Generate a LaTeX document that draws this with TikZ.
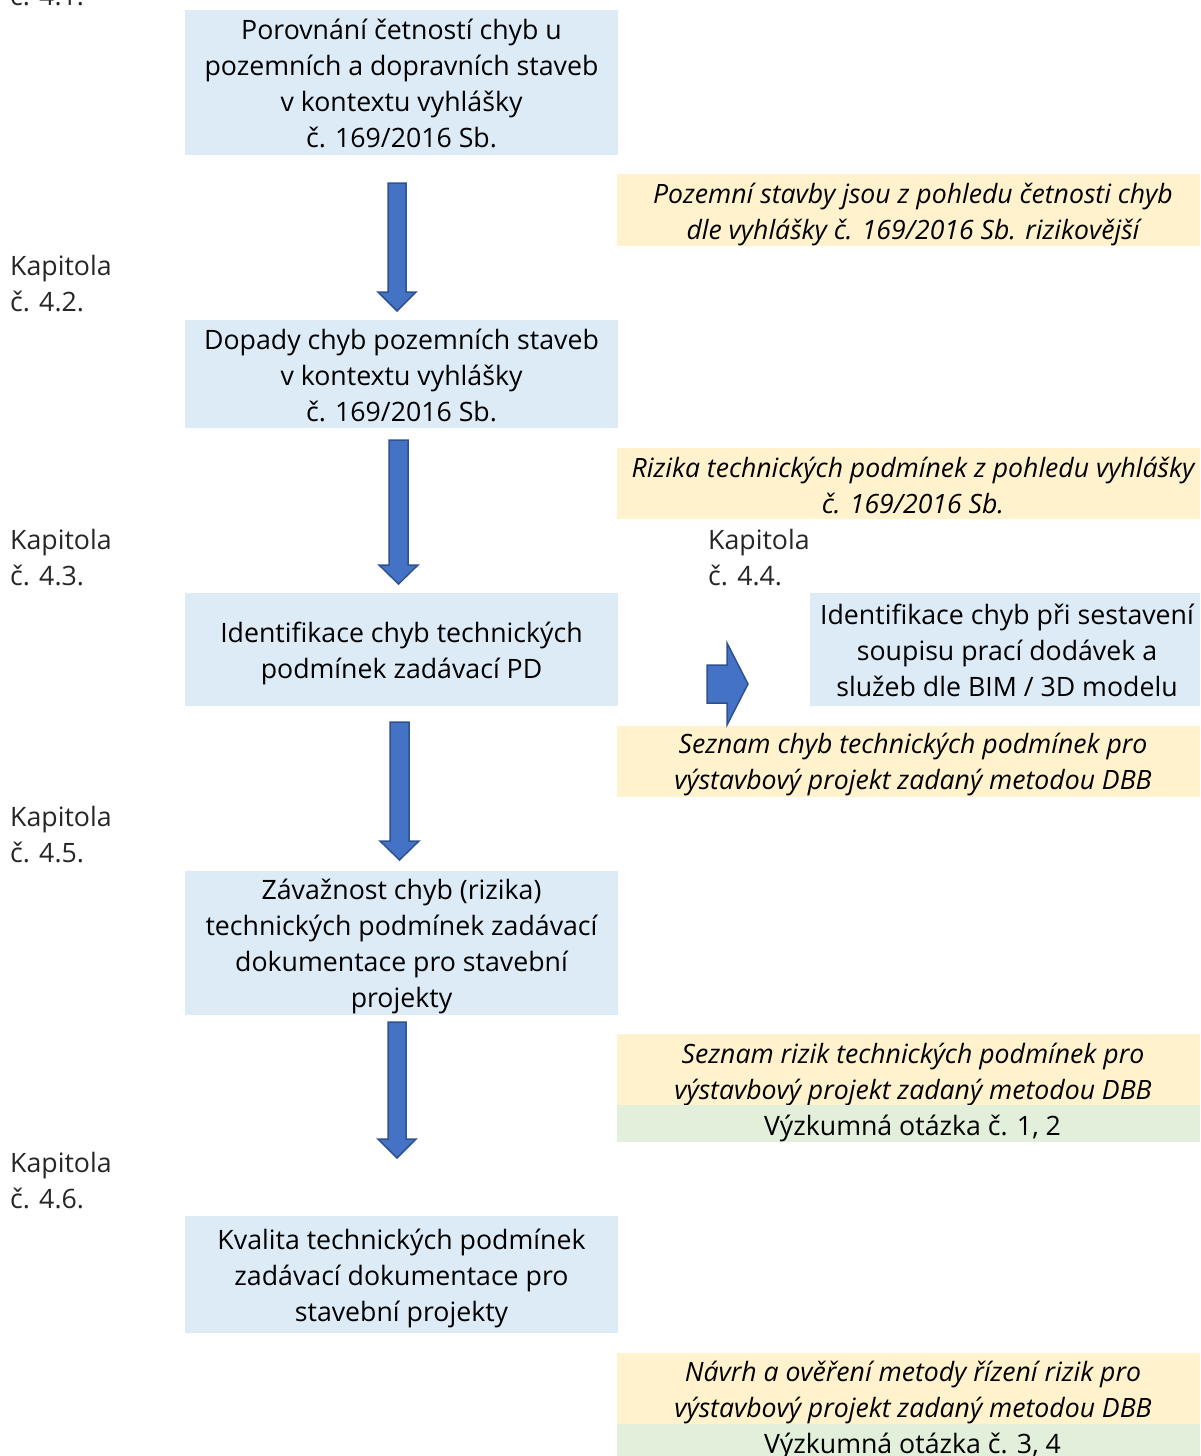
\documentclass[tikz,border=0pt]{standalone}
\usepackage{fontspec}
\setmainfont{Open Sans}
\begin{document}
\begin{tikzpicture}[x=1pt,y=-1pt,
  every node/.style={font=\fontsize{26.7}{36}\selectfont},
  boxtext/.style={align=center,inner sep=0pt,yshift=-3.5pt},
  notetext/.style={boxtext,xshift=4.5pt,font=\fontsize{26.6}{36}\selectfont\itshape},
  bluebox/.style={fill=boxblue,draw=none,rectangle,inner sep=0pt},
  notebox/.style={fill=noteyellow,draw=none,rectangle,inner sep=0pt,minimum width=583pt},
  rqbox/.style={fill=rqgreen,draw=none,rectangle,inner sep=0pt,minimum width=583pt,minimum height=37pt},
  chaplabel/.style={anchor=north west,align=left,inner sep=0pt,text=black!85},
  blockarrow/.style={fill=arrowblue,draw=arrowedge,line width=1.5pt,line join=miter}
]
\definecolor{boxblue}{HTML}{DDEBF7}
\definecolor{noteyellow}{HTML}{FFF2CC}
\definecolor{rqgreen}{HTML}{E2EFDA}
\definecolor{arrowblue}{HTML}{4472C4}
\definecolor{arrowedge}{HTML}{2F528F}
\useasboundingbox (0,0) rectangle (1200,1456);
\begin{scope}
\clip (0,0) rectangle (1200,1456);
% main blue boxes
\node[bluebox,minimum width=433pt,minimum height=145pt,
  label={[boxtext,yshift=3pt]center:{Porovnání četností chyb u\\pozemních a dopravních staveb\\v kontextu vyhlášky\\č. 169/2016 Sb.}}] (b1) at (401.5,82.5) {};
\node[bluebox,minimum width=433pt,minimum height=108pt,
  label={[boxtext,yshift=2.5pt]center:{Dopady chyb pozemních staveb\\v kontextu vyhlášky\\č. 169/2016 Sb.}}] (b2) at (401.5,374) {};
\node[bluebox,minimum width=433pt,minimum height=113pt,
  label={[boxtext]center:{Identifikace chyb technických\\podmínek zadávací PD}}] (b3) at (401.5,649.5) {};
\node[bluebox,minimum width=433pt,minimum height=144pt,
  label={[boxtext]center:{Závažnost chyb (rizika)\\technických podmínek zadávací\\dokumentace pro stavební\\projekty}}] (b4) at (401.5,943) {};
\node[bluebox,minimum width=433pt,minimum height=117pt,
  label={[boxtext]center:{Kvalita technických podmínek\\zadávací dokumentace pro\\stavební projekty}}] (b5) at (401.5,1274.5) {};
\node[bluebox,minimum width=390pt,minimum height=113pt,
  label={[boxtext,xshift=2pt,yshift=2.5pt]center:{Identifikace chyb při sestavení\\soupisu prací dodávek a\\služeb dle BIM / 3D modelu}}] (b44) at (1005,649.5) {};
% notes
\node[notebox,minimum height=72pt,
  label={[notetext,yshift=-1pt]center:{Pozemní stavby jsou z pohledu četnosti chyb\\dle vyhlášky č. 169/2016 Sb. rizikovější}}] (n1) at (908.5,210) {};
\node[notebox,minimum height=71pt,
  label={[notetext,yshift=2pt]center:{Rizika technických podmínek z pohledu vyhlášky\\č. 169/2016 Sb.}}] (n2) at (908.5,483.5) {};
\node[notebox,minimum height=71pt,
  label={[notetext]center:{Seznam chyb technických podmínek pro\\výstavbový projekt zadaný metodou DBB}}] (n3) at (908.5,761.5) {};
\node[notebox,minimum height=71pt,
  label={[notetext,yshift=-1pt]center:{Seznam rizik technických podmínek pro\\výstavbový projekt zadaný metodou DBB}}] (n4) at (908.5,1069.5) {};
\node[rqbox,label={[boxtext,yshift=-1pt,xshift=4pt]center:{Výzkumná otázka č. 1, 2}}] (q1) at (908.5,1123.5) {};
\node[notebox,minimum height=71pt,
  label={[notetext]center:{Návrh a ověření metody řízení rizik pro\\výstavbový projekt zadaný metodou DBB}}] (n5) at (908.5,1388.5) {};
\node[rqbox,label={[boxtext,xshift=4pt]center:{Výzkumná otázka č. 3, 4}}] (q2) at (908.5,1442.5) {};
% chapter labels
\node[chaplabel] (k1) at (10,-51) {Kapitola\\č. 4.1.};
\node[chaplabel] (k2) at (10,255) {Kapitola\\č. 4.2.};
\node[chaplabel] (k3) at (10,529) {Kapitola\\č. 4.3.};
\node[chaplabel] (k4) at (708,529) {Kapitola\\č. 4.4.};
\node[chaplabel] (k5) at (10,806) {Kapitola\\č. 4.5.};
\node[chaplabel] (k6) at (10,1152) {Kapitola\\č. 4.6.};
% block arrows (down)
\draw[blockarrow] (388,183) -- (406,183) -- (406,292) -- (416,292) -- (397,311) -- (378,292) -- (388,292) -- cycle;
\draw[blockarrow] (389,440) -- (408,440) -- (408,565) -- (418,565) -- (398.5,584) -- (379,565) -- (389,565) -- cycle;
\draw[blockarrow] (390,722) -- (409,722) -- (409,841) -- (419,841) -- (399.5,860) -- (380,841) -- (390,841) -- cycle;
\draw[blockarrow] (388,1022) -- (406,1022) -- (406,1139) -- (416,1139) -- (397,1158) -- (378,1139) -- (388,1139) -- cycle;
% block arrow (right)
\draw[blockarrow] (707,665) -- (727,665) -- (727,643) -- (748,684) -- (727,725) -- (727,703) -- (707,703) -- cycle;
\end{scope}
\end{tikzpicture}
\end{document}
